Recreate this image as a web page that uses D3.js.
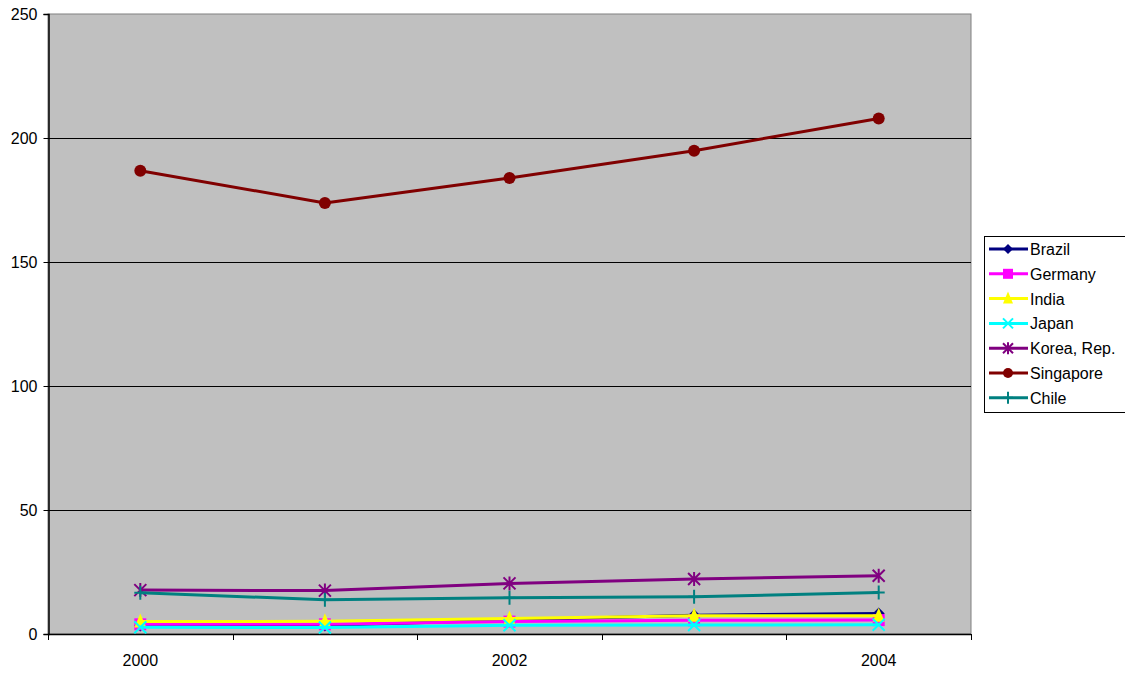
<!DOCTYPE html>
<html>
<head>
<meta charset="utf-8">
<script src="https://cdn.jsdelivr.net/npm/d3@7"></script>
<style>
  html, body { margin: 0; padding: 0; background: #fff; }
  svg { display: block; font-family: "Liberation Sans", Arial, sans-serif; }
</style>
</head>
<body>
<svg id="chart" width="1125" height="673"></svg>
<script>
// Years on the category axis
const years = ["2000", "2001", "2002", "2003", "2004"];
const yTicks = [0, 50, 100, 150, 200, 250];

// One array per country
const brazil    = [3.4, 3.4, 5.6, 7.6, 8.3];
const germany   = [3.9, 3.9, 5.0, 5.5, 5.6];
const india     = [5.0, 5.1, 6.3, 7.4, 7.4];
const japan     = [2.7, 2.6, 3.5, 3.6, 3.7];
const korea     = [17.7, 17.5, 20.4, 22.2, 23.5];
const singapore = [186.8, 173.8, 183.9, 194.9, 207.9];
const chile     = [16.6, 13.8, 14.6, 15.0, 16.7];

const seriesNames = ["Brazil", "Germany", "India", "Japan", "Korea, Rep.", "Singapore", "Chile"];
const seriesValues = [brazil, germany, india, japan, korea, singapore, chile];
const seriesColors = ["#000080", "#FF00FF", "#FFFF00", "#00FFFF", "#800080", "#800000", "#008080"];
const seriesMarkers = ["diamond", "square", "triangle", "x", "star", "circle", "plus"];

const svg = d3.select("#chart");
const plot = { left: 48, right: 971, top: 14, bottom: 634 };
const fontSize = 16;

const x = d3.scaleBand().domain(years).range([plot.left, plot.right]);
const y = d3.scaleLinear().domain([0, 250]).range([plot.bottom, plot.top]);

// plot area
svg.append("rect")
  .attr("x", plot.left).attr("y", plot.top)
  .attr("width", plot.right - plot.left).attr("height", plot.bottom - plot.top)
  .attr("fill", "#C0C0C0").attr("stroke", "#808080").attr("stroke-width", 1);

// horizontal gridlines
svg.append("g").selectAll("line")
  .data(yTicks.filter(d => d > 0 && d < 250))
  .join("line")
  .attr("x1", plot.left).attr("x2", plot.right)
  .attr("y1", d => Math.round(y(d)) + 0.5).attr("y2", d => Math.round(y(d)) + 0.5)
  .attr("stroke", "#000").attr("stroke-width", 1);

// y axis
const yAxis = svg.append("g")
  .attr("transform", `translate(${plot.left + 0.5},0)`)
  .call(d3.axisLeft(y).tickValues(yTicks).tickSize(5).tickPadding(6).tickFormat(d3.format("d")));
yAxis.select(".domain").attr("stroke", "#000").attr("stroke-width", 1.5);
yAxis.selectAll(".tick line").attr("stroke", "#000");
yAxis.selectAll(".tick text").attr("font-size", fontSize).attr("fill", "#000")
  .attr("font-family", "Liberation Sans, Arial, sans-serif");

// x axis: ticks at category boundaries, labels on every other year
const boundaries = years.map(d => x(d)).concat([plot.right]);
const xg = svg.append("g");
xg.append("line")
  .attr("x1", plot.left).attr("x2", plot.right)
  .attr("y1", plot.bottom + 0.5).attr("y2", plot.bottom + 0.5)
  .attr("stroke", "#000").attr("stroke-width", 1.5);
xg.selectAll("line.tk").data(boundaries).join("line").attr("class", "tk")
  .attr("x1", d => Math.round(d) + 0.5).attr("x2", d => Math.round(d) + 0.5)
  .attr("y1", plot.bottom).attr("y2", plot.bottom + 6)
  .attr("stroke", "#000");
xg.selectAll("text").data(years.filter((d, i) => i % 2 === 0)).join("text")
  .attr("x", d => x(d) + x.bandwidth() / 2)
  .attr("y", 666)
  .attr("text-anchor", "middle")
  .attr("font-size", fontSize)
  .text(d => d);

// marker shapes
function marker(g, type, color, size) {
  const s = size;
  if (type === "diamond") {
    g.append("path").attr("d", `M0,${-s}L${s},0L0,${s}L${-s},0Z`).attr("fill", color);
  } else if (type === "square") {
    g.append("rect").attr("x", -s).attr("y", -s).attr("width", 2 * s).attr("height", 2 * s).attr("fill", color);
  } else if (type === "triangle") {
    g.append("path").attr("d", `M0,${-s - 2}L${s},${s}L${-s},${s}Z`).attr("fill", color);
  } else if (type === "circle") {
    g.append("circle").attr("r", s).attr("fill", color);
  } else if (type === "x") {
    g.append("path").attr("d", `M${-s},${-s}L${s},${s}M${-s},${s}L${s},${-s}`)
      .attr("stroke", color).attr("stroke-width", 2).attr("fill", "none");
  } else if (type === "star") {
    g.append("path").attr("d", `M${-s},${-s}L${s},${s}M${-s},${s}L${s},${-s}M0,${-s - 1}L0,${s + 1}`)
      .attr("stroke", color).attr("stroke-width", 2).attr("fill", "none");
  } else if (type === "plus") {
    g.append("path").attr("d", `M0,${-s - 1}L0,${s + 1}M${-s},0L${s},0`)
      .attr("stroke", color).attr("stroke-width", 2).attr("fill", "none");
  }
}

const line = d3.line()
  .x((d, i) => x(years[i]) + x.bandwidth() / 2)
  .y(d => y(d));

// series: lines and markers
seriesValues.forEach((vals, si) => {
  const g = svg.append("g");
  g.append("path").datum(vals)
    .attr("d", line)
    .attr("fill", "none")
    .attr("stroke", seriesColors[si])
    .attr("stroke-width", 3)
    .attr("stroke-linejoin", "round");
  vals.forEach((v, i) => {
    const m = g.append("g")
      .attr("transform", `translate(${x(years[i]) + x.bandwidth() / 2},${y(v)})`);
    marker(m, seriesMarkers[si], seriesColors[si], 6);
  });
});

// legend
const legend = svg.append("g");
legend.append("rect")
  .attr("x", 984.5).attr("y", 236.5).attr("width", 145).attr("height", 176)
  .attr("fill", "#fff").attr("stroke", "#000").attr("stroke-width", 1);
seriesNames.forEach((name, i) => {
  const cy = 249 + i * 24.8;
  const item = legend.append("g").attr("transform", `translate(0,${cy})`);
  item.append("line").attr("x1", 989).attr("x2", 1028).attr("y1", 0).attr("y2", 0)
    .attr("stroke", seriesColors[i]).attr("stroke-width", 3);
  const m = item.append("g").attr("transform", "translate(1008,0)");
  marker(m, seriesMarkers[i], seriesColors[i], 5);
  item.append("text").attr("x", 1030).attr("y", 6).attr("font-size", fontSize).text(name);
});
</script>
</body>
</html>
